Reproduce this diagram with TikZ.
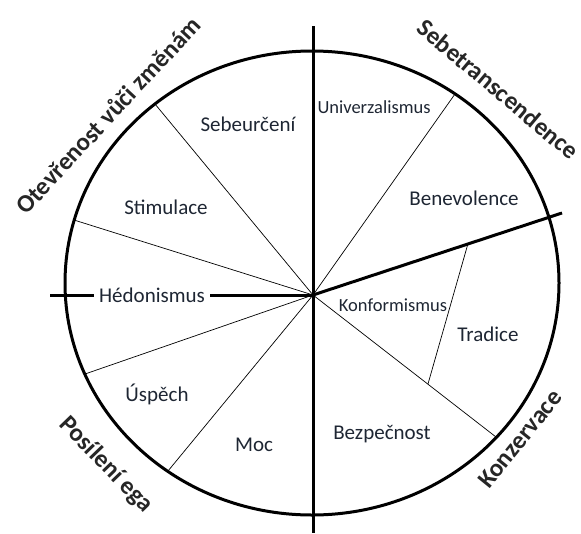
\documentclass[tikz,border=0pt]{standalone}
\usepackage{fontspec}
\setmainfont{Carlito}
\usepackage{tikz}
\usetikzlibrary{calc}
\definecolor{ink}{HTML}{1E2633}

\begin{document}
\begin{tikzpicture}[x = 1pt, y = -1pt, rim/.style = {line width = 3pt}, spoke/.style = {line width = 0.7pt}, value/.style = {font = \fontsize{21}{25}\selectfont, text = ink, inner sep = 2pt}, small value/.style = {font = \fontsize{18.5}{22}\selectfont, text = ink, inner sep = 1pt}, group/.style = {font = \bfseries\fontsize{25}{30}\selectfont, text = black!85}]
            \useasboundingbox (0, 0) rectangle (581, 533);
            \coordinate (hub) at (313, 295);
            \coordinate (top) at (313, 26);
            \coordinate (bottom) at (313, 533);
            \coordinate (west) at (50, 295);
            \coordinate (east) at (562, 213);
            \coordinate (sebeurceni stimulace) at (155, 104);
            \coordinate (stimulace hedonismus) at (74, 220);
            \coordinate (hedonismus uspech) at (85, 374);
            \coordinate (uspech moc) at (168, 471);
            \coordinate (univerzalismus benevolence) at (455, 94);
            \coordinate (konformismus bezpecnost) at (496, 437);
            \coordinate (tradice top) at ($(hub)!0.622!(east)$);
            \coordinate (tradice bottom) at ($(hub)!0.628!(konformismus bezpecnost)$);
            \draw[rim] (312, 283) ellipse [x radius = 247, y radius = 232];
            \draw[rim] (top) -- (bottom);
            \draw[rim] (west) -- (hub);
            \draw[rim] (hub) -- (east);
            \foreach \rimpoint in {sebeurceni stimulace, stimulace hedonismus, hedonismus uspech, uspech moc, univerzalismus benevolence, konformismus bezpecnost} {
                \draw[spoke] (hub) -- (\rimpoint);
            }
            \draw[spoke] (tradice top) -- (tradice bottom);
            \node[value] (sebeurceni) at (248, 124) {Sebeurčení};
            \node[value] (stimulace) at (166, 207) {Stimulace};
            \node[value, fill = white, inner xsep = 5pt] (hedonismus) at (152, 295) {Hédonismus};
            \node[value] (uspech) at (157, 394) {Úspěch};
            \node[value] (moc) at (254, 445) {Moc};
            \node[small value] (univerzalismus) at (374, 107) {Univerzalismus};
            \node[value] (benevolence) at (464, 198) {Benevolence};
            \node[small value] (konformismus) at (393, 305) {Konformismus};
            \node[value] (tradice) at (488, 334) {Tradice};
            \node[value] (bezpecnost) at (382, 434) {Bezpečnost};
            \node[group, rotate = 47] (otevrenost) at (108, 115) {Otevřenost vůči změnám};
            \node[group, rotate = -40] (sebetranscendence) at (498, 89) {Sebetranscendence};
            \node[group, rotate = -46] (posileni) at (106, 465) {Posílení ega};
            \node[group, rotate = 51] (konzervace) at (520, 439) {Konzervace};
        \end{tikzpicture}
\end{document}
